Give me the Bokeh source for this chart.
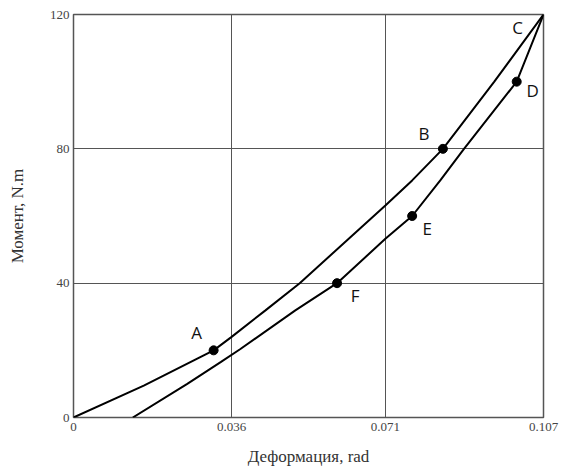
from bokeh.plotting import figure
from bokeh.models import FixedTicker, Range1d
from bokeh.embed import file_html
from bokeh.resources import INLINE

# Loading branch (upper curve): O -> A -> B -> C
load_x = [0.0, 0.016, 0.0319, 0.036, 0.0437, 0.0515, 0.071, 0.0771, 0.0841, 0.0958, 0.107]
load_y = [0.0, 9.5, 20.0, 24.0, 31.9, 40.0, 63.1, 70.6, 80.0, 100.0, 120.0]

# Unloading branch (lower curve): C -> D -> E -> F -> residual strain
unload_x = [0.107, 0.1009, 0.0889, 0.0835, 0.0771, 0.071, 0.060, 0.0505, 0.038, 0.0335, 0.0259, 0.0135]
unload_y = [120.0, 100.0, 80.0, 70.6, 60.0, 53.2, 40.0, 31.9, 20.4, 16.5, 10.0, 0.0]

# Characteristic points of the loop
point_names = ["A", "B", "C", "D", "E", "F"]
point_x = [0.0319, 0.0841, 0.107, 0.1009, 0.0771, 0.0600]
point_y = [20.0, 80.0, 120.0, 100.0, 60.0, 40.0]
point_marked = [True, True, False, True, True, True]

x_ticks = [0, 0.036, 0.071, 0.107]
x_tick_labels = ["0", "0.036", "0.071", "0.107"]
y_ticks = [0, 40, 80, 120]

# screen offsets of the letters relative to their points
label_dx = [-17, -19, -26, 16, 15, 18]
label_dy = [-18, -15, 13, 9, 12, 12]

SERIF = "serif"

p = figure(width=561, height=472, output_backend="svg", toolbar_location=None,
           x_range=Range1d(0, 0.107), y_range=Range1d(0, 120),
           min_border_left=73, min_border_right=18, min_border_top=14, min_border_bottom=55)
p.background_fill_color = "white"
p.border_fill_color = "white"
p.outline_line_color = "#555555"
p.outline_line_width = 1.5

for ax in (p.xaxis[0], p.yaxis[0]):
    ax.axis_line_color = None
    ax.major_tick_line_color = None
    ax.minor_tick_line_color = None
    ax.major_tick_out = 0
    ax.major_tick_in = 0
    ax.major_label_text_font = SERIF
    ax.major_label_text_font_size = "13px"
    ax.major_label_text_color = "#444444"
    ax.axis_label_text_font = SERIF
    ax.axis_label_text_font_size = "17px"
    ax.axis_label_text_font_style = "normal"
    ax.axis_label_text_color = "#333333"

p.xaxis.ticker = FixedTicker(ticks=x_ticks)
p.xaxis.major_label_overrides = {t: s for t, s in zip(x_ticks, x_tick_labels)}
p.yaxis.ticker = FixedTicker(ticks=y_ticks)
p.xaxis.axis_label = "Деформация, rad"
p.yaxis.axis_label = "Момент, N.m"
p.xaxis.major_label_standoff = 5
p.yaxis.major_label_standoff = 4
p.xaxis.axis_label_standoff = 13
p.yaxis.axis_label_standoff = 20

for g in (p.xgrid[0], p.ygrid[0]):
    g.grid_line_color = "#555555"
    g.grid_line_width = 1

p.line(load_x, load_y, line_color="black", line_width=2)
p.line(unload_x, unload_y, line_color="black", line_width=2)

mx = [x for x, m in zip(point_x, point_marked) if m]
my = [y for y, m in zip(point_y, point_marked) if m]
p.scatter(mx, my, size=9, color="black")

for name, x, y, dx, dy in zip(point_names, point_x, point_y, label_dx, label_dy):
    p.text(x=[x], y=[y], text=[name], x_offset=dx, y_offset=dy,
           text_align="center", text_baseline="middle",
           text_font={"value": "Open Sans"}, text_font_size="17px", text_color="#111111")

open("out.html", "w").write(file_html(p, INLINE))
